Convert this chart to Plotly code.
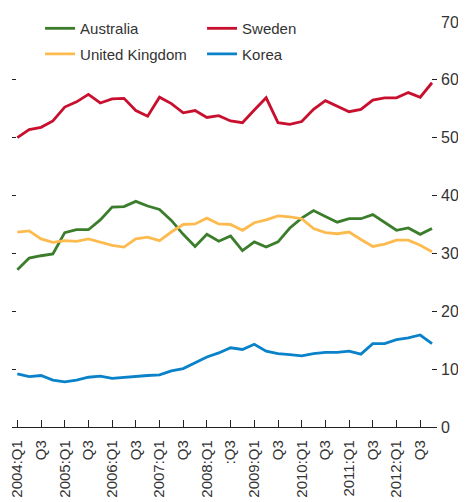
import plotly.graph_objects as go

quarters = [f"{y}:Q{q}" for y in range(2004, 2013) for q in (1, 2, 3, 4)]

australia = [27.2, 29.2, 29.6, 29.9, 33.6, 34.1, 34.1, 35.8, 38.0, 38.1, 39.0, 38.2,
             37.6, 35.7, 33.3, 31.2, 33.3, 32.1, 33.0, 30.5, 32.0, 31.1, 32.0, 34.4,
             36.1, 37.4, 36.4, 35.4, 36.0, 36.0, 36.7, 35.3, 34.0, 34.4, 33.3, 34.3]
sweden = [50.0, 51.4, 51.8, 52.9, 55.3, 56.2, 57.5, 56.0, 56.7, 56.8, 54.7, 53.7,
          57.0, 55.9, 54.3, 54.7, 53.5, 53.8, 52.9, 52.6, 54.8, 56.9, 52.6, 52.3,
          52.8, 54.9, 56.4, 55.4, 54.5, 54.9, 56.5, 56.9, 56.9, 57.8, 57.0, 59.5]
uk = [33.7, 33.9, 32.5, 31.9, 32.2, 32.1, 32.5, 31.9, 31.4, 31.1, 32.5, 32.8,
      32.2, 33.7, 35.0, 35.1, 36.1, 35.1, 35.0, 34.0, 35.3, 35.8, 36.5, 36.3,
      36.0, 34.3, 33.6, 33.4, 33.7, 32.4, 31.2, 31.6, 32.3, 32.3, 31.4, 30.3]
korea = [9.2, 8.7, 8.9, 8.1, 7.8, 8.1, 8.6, 8.8, 8.4, 8.6, 8.8, 8.9,
         9.0, 9.7, 10.1, 11.1, 12.1, 12.8, 13.7, 13.4, 14.3, 13.1, 12.7, 12.5,
         12.3, 12.7, 12.9, 12.9, 13.1, 12.6, 14.4, 14.4, 15.1, 15.4, 15.9, 14.4]

tick_vals = [q for q in quarters if q.endswith("Q1") or q.endswith("Q3")][:18]
tick_text = ["2004:Q1", "Q3", "2005:Q1", "Q3", "2006:Q1", "Q3", "2007:Q1", "Q3",
             "2008:Q1", ":Q3", "2009:Q1", "Q3", "2010:Q1", "Q3", "2011:Q1", "Q3",
             "2012:Q1", "Q3"]
y_ticks = [0, 10, 20, 30, 40, 50, 60, 70]

series = [
    ("Australia", australia, "#3b7d2b", "legend"),
    ("Sweden", sweden, "#c8102e", "legend"),
    ("United Kingdom", uk, "#fdbb4f", "legend2"),
    ("Korea", korea, "#0a82c9", "legend2"),
]

FONT = "Liberation Sans, Arial, sans-serif"
TXT = "#333333"

fig = go.Figure()
for name, vals, col, lg in series:
    fig.add_trace(go.Scatter(x=quarters, y=vals, name=name, mode="lines",
                             legend=lg, line=dict(color=col, width=2.8)))

leg_common = dict(orientation="h", xanchor="left", yanchor="middle",
                  entrywidth=117, font=dict(size=15, color=TXT),
                  bgcolor="rgba(0,0,0,0)", itemwidth=30)

# page body has an 8px default margin, so the figure is sized/offset to compensate
fig.update_layout(
    width=458, height=494,
    margin=dict(l=4, r=29, t=6, b=75),
    plot_bgcolor="white", paper_bgcolor="white",
    font=dict(family=FONT, size=15, color=TXT),
    showlegend=True,
    legend=dict(x=0.066, y=(427.3 - 21) / 413, **leg_common),
    legend2=dict(x=0.066, y=(427.3 - 47) / 413, **leg_common),
    xaxis=dict(type="category", range=[-0.45, 35.42], tickvals=tick_vals,
               ticktext=tick_text, tickangle=-90, ticks="inside", ticklen=7,
               tickwidth=1.3, tickcolor="#222", showline=True, linecolor="#222",
               linewidth=1.3, showgrid=False, zeroline=False, automargin=False,
               ticklabelstandoff=6, tickfont=dict(size=15, color=TXT)),
    yaxis=dict(range=[0, 70], tickvals=y_ticks, side="right", ticks="inside",
               ticklen=5, tickwidth=1.3, tickcolor="#222", showgrid=False,
               zeroline=False, showline=False, automargin=False,
               ticklabelstandoff=3, tickfont=dict(size=16, color=TXT)),
    yaxis2=dict(range=[0, 70], tickvals=y_ticks, overlaying="y", side="left",
                ticks="inside", ticklen=4, tickwidth=1.3, tickcolor="#222",
                showticklabels=False, showgrid=False, zeroline=False,
                showline=False, automargin=False),
)
fig.add_trace(go.Scatter(x=[quarters[0]], y=[None], yaxis="y2", showlegend=False,
                         hoverinfo="skip"))

fig.write_html("out.html")
